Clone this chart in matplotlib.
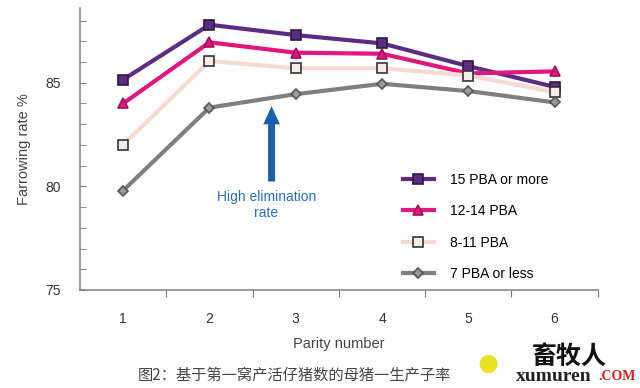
import matplotlib
import numpy as np

matplotlib.use("Agg")
import matplotlib.pyplot as plt

plt.rcParams["font.family"] = ["Liberation Sans", "Noto Sans CJK SC", "DejaVu Sans"]

parity = [1, 2, 3, 4, 5, 6]
parity_labels = ["1", "2", "3", "4", "5", "6"]

pba15_more = [85.15, 87.8, 87.3, 86.9, 85.8, 84.8]
pba12_14 = [84.0, 86.95, 86.45, 86.4, 85.45, 85.55]
pba8_11 = [82.0, 86.05, 85.7, 85.7, 85.35, 84.55]
pba7_less = [79.8, 83.8, 84.45, 84.95, 84.6, 84.05]

series = [
    ("15 PBA or more", pba15_more, "#5b2d82", "s", "#5b2d82", "#2e1740", 7),
    ("12-14 PBA", pba12_14, "#e0177e", "^", "#e0177e", "#a0105a", 7),
    ("8-11 PBA", pba8_11, "#f6d9d2", "s", "#f4ece8", "#333333", 7),
    ("7 PBA or less", pba7_less, "#7f7f7f", "D", "#9a9a9a", "#555555", 5),
]

fig = plt.figure(figsize=(6.4, 3.88), dpi=100)
ax = fig.add_axes([0.125, 0.2526, 0.809, 0.7264])

for label, vals, color, mk, mfc, mec, ms in series:
    ax.plot(parity, vals, color=color, lw=3, marker=mk, ms=ms, mfc=mfc, mec=mec,
            mew=1.2, label=label)

ax.set_xlim(0.5, 6.5)
ax.set_ylim(75, 88.6)
ax.set_yticks([75, 80, 85])
ax.set_yticks(np.arange(76, 89, 1), minor=True)
ax.tick_params(axis="y", which="minor", direction="in", length=4, color="#777777")
ax.tick_params(axis="y", which="major", direction="in", length=4, color="#777777",
               labelsize=10, labelcolor="#333333", pad=14)

ax.set_xticks([1.5, 2.5, 3.5, 4.5, 5.5, 6.5])
ax.set_xticklabels([])
ax.set_xticks(parity, minor=True)
ax.set_xticklabels(parity_labels, minor=True)
ax.tick_params(axis="x", which="major", direction="out", length=5, color="#777777")
ax.tick_params(axis="x", which="minor", length=0, labelsize=10, labelcolor="#333333", pad=16)

for side in ["top", "right"]:
    ax.spines[side].set_visible(False)
for side in ["left", "bottom"]:
    ax.spines[side].set_color("#888888")
    ax.spines[side].set_linewidth(1.2)

ax.set_xlabel("Parity number", fontsize=10.5, color="#444444", labelpad=8)
ax.set_ylabel("Farrowing rate %", fontsize=10.5, color="#444444", labelpad=10)

# arrow + note
ax.annotate("", xy=(2.72, 84.0), xytext=(2.72, 80.1),
            arrowprops=dict(arrowstyle="simple,head_width=1.2,head_length=1.3,tail_width=0.5",
                            color="#1b5eaa", lw=0))
ax.text(2.66, 79.1, "High elimination\nrate", ha="center", va="center", fontsize=10,
        color="#2e6db5", linespacing=1.1)

ax.legend(loc="upper left", bbox_to_anchor=(0.6, 0.46), frameon=False, fontsize=10,
          handlelength=2.2, labelspacing=1.25, handletextpad=1.2)

fig.text(0.215, 0.033, "图2：基于第一窝产活仔猪数的母猪一生产子率", fontsize=11, color="#444444",
         family=["Noto Sans CJK SC", "DejaVu Sans"], va="center")

# watermark
fig.text(0.762, 0.06, "●", fontsize=30, color="#e8e020", ha="center", va="center")
fig.text(0.89, 0.08, "畜牧人", fontsize=18, color="#111111", ha="center", va="center",
         family=["Noto Sans CJK SC", "DejaVu Sans"], weight="bold")
fig.text(0.806, 0.03, "xumuren", fontsize=14, color="#222222", family="Liberation Serif",
         weight="bold", va="center")
fig.text(0.935, 0.03, ".COM", fontsize=10, color="#d02020", family="Liberation Serif",
         weight="bold", va="center")

fig.savefig("out.png", dpi=100)
